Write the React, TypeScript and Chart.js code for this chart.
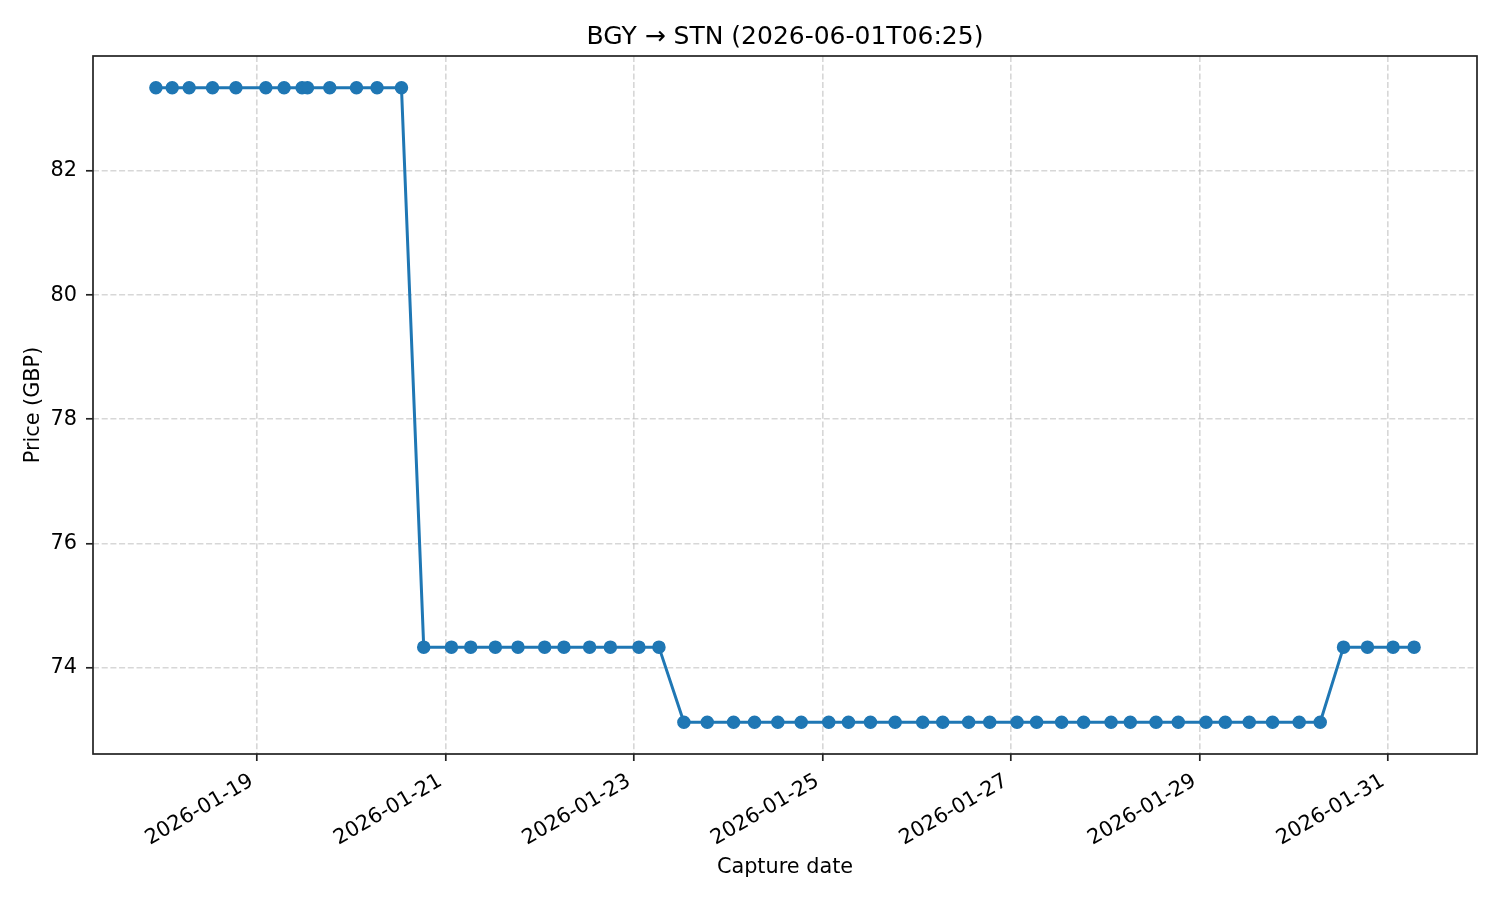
import { useEffect, useRef } from 'react';
import { Chart, registerables } from 'chart.js';

Chart.register(...registerables);

// capture timestamps (UTC) and the price seen at each capture
const captureTimes = [
  '2026-01-17T22:18', '2026-01-18T02:27', '2026-01-18T06:46', '2026-01-18T12:43', '2026-01-18T18:40',
  '2026-01-19T02:17', '2026-01-19T06:56', '2026-01-19T11:31', '2026-01-19T12:53', '2026-01-19T18:34',
  '2026-01-20T01:22', '2026-01-20T06:36', '2026-01-20T12:49', '2026-01-20T18:29', '2026-01-21T01:32',
  '2026-01-21T06:27', '2026-01-21T12:43', '2026-01-21T18:29', '2026-01-22T01:16', '2026-01-22T06:11',
  '2026-01-22T12:43', '2026-01-22T18:00', '2026-01-23T01:16', '2026-01-23T06:22', '2026-01-23T12:43',
  '2026-01-23T18:40', '2026-01-24T01:22', '2026-01-24T06:42', '2026-01-24T12:38', '2026-01-24T18:35',
  '2026-01-25T01:36', '2026-01-25T06:37', '2026-01-25T12:13', '2026-01-25T18:30', '2026-01-26T01:31',
  '2026-01-26T06:37', '2026-01-26T13:13', '2026-01-26T18:35', '2026-01-27T01:32', '2026-01-27T06:31',
  '2026-01-27T12:53', '2026-01-27T18:29', '2026-01-28T01:28', '2026-01-28T06:22', '2026-01-28T12:55',
  '2026-01-28T18:35', '2026-01-29T01:38', '2026-01-29T06:33', '2026-01-29T12:39', '2026-01-29T18:35',
  '2026-01-30T01:22', '2026-01-30T06:43', '2026-01-30T12:39', '2026-01-30T18:45', '2026-01-31T01:16',
  '2026-01-31T06:37',
];

const prices = [
  83.34, 83.34, 83.34, 83.34, 83.34, 83.34, 83.34, 83.34, 83.34, 83.34, 83.34, 83.34, 83.34,
  74.33, 74.33, 74.33, 74.33, 74.33, 74.33, 74.33, 74.33, 74.33, 74.33, 74.33,
  73.12, 73.12, 73.12, 73.12, 73.12, 73.12, 73.12, 73.12, 73.12, 73.12, 73.12, 73.12, 73.12, 73.12,
  73.12, 73.12, 73.12, 73.12, 73.12, 73.12, 73.12, 73.12, 73.12, 73.12, 73.12, 73.12, 73.12, 73.12,
  74.33, 74.33, 74.33, 74.33,
];

const xTickDates = ['2026-01-19', '2026-01-21', '2026-01-23', '2026-01-25', '2026-01-27', '2026-01-29', '2026-01-31'];
const yTickValues = [74, 76, 78, 80, 82];
const chartTitle = 'BGY → STN (2026-06-01T06:25)';

const toMs = (s: string) => Date.parse(s.length > 10 ? s + ':00Z' : s + 'T00:00:00Z');
const fmtDate = (v: number) => new Date(v).toISOString().slice(0, 10);

const FONT = 'DejaVu Sans';
const INK = '#000000';
const SPINE = '#222222';
const BLUE = '#1f77b4';
const GRID = 'rgba(176,176,176,0.5)';

// full box around the plot area + title centred over the axes (matplotlib style)
const framePlugin = {
  id: 'frame',
  afterDraw(chart: any) {
    const { ctx, chartArea: a } = chart;
    ctx.save();
    ctx.strokeStyle = SPINE;
    ctx.lineWidth = 1.7;
    ctx.strokeRect(a.left, a.top, a.right - a.left, a.bottom - a.top);
    ctx.fillStyle = INK;
    ctx.font = `25px "${FONT}"`;
    ctx.textAlign = 'center';
    ctx.textBaseline = 'middle';
    ctx.fillText(chartTitle, (a.left + a.right) / 2, 37);
    ctx.restore();
  },
};

const PriceChart = () => {
  const chartRef = useRef<HTMLCanvasElement>(null);
  const chartInstance = useRef<Chart | null>(null);

  useEffect(() => {
    document.body.style.margin = '0';
    if (!chartRef.current) return;

    if (chartInstance.current) {
      chartInstance.current.destroy();
    }

    const ctx = chartRef.current.getContext('2d');
    if (!ctx) return;

    const xs = captureTimes.map(toMs);
    const points = xs.map((x, i) => ({ x, y: prices[i] }));

    // 5% margins like matplotlib
    const xMinData = Math.min(...xs);
    const xMaxData = Math.max(...xs);
    const xPad = (xMaxData - xMinData) * 0.05;
    const yMinData = Math.min(...prices);
    const yMaxData = Math.max(...prices);
    const yPad = (yMaxData - yMinData) * 0.05;

    chartInstance.current = new Chart(ctx, {
      type: 'line',
      data: {
        datasets: [
          {
            data: points,
            borderColor: BLUE,
            backgroundColor: BLUE,
            borderWidth: 3,
            pointRadius: 6,
            pointBorderWidth: 1.5,
            pointBackgroundColor: BLUE,
            pointBorderColor: BLUE,
            tension: 0,
            fill: false,
          },
        ],
      },
      options: {
        responsive: true,
        maintainAspectRatio: false,
        animation: false,
        layout: { padding: { left: 0, right: 23, top: 56, bottom: 0 } },
        plugins: {
          legend: { display: false },
          tooltip: { enabled: false },
          title: { display: false },
        },
        scales: {
          x: {
            type: 'linear',
            min: xMinData - xPad,
            max: xMaxData + xPad,
            afterBuildTicks: (scale: any) => {
              scale.ticks = xTickDates.map((d) => ({ value: toMs(d) }));
            },
            afterFit: (scale: any) => {
              scale.height = 146;
            },
            ticks: {
              autoSkip: false,
              maxRotation: 30,
              minRotation: 30,
              padding: 8,
              labelOffset: -5,
              color: INK,
              font: { family: FONT, size: 20.8 },
              callback: (v: any) => fmtDate(Number(v)),
            },
            grid: {
              color: GRID,
              lineWidth: 1.6,
              tickColor: SPINE,
              tickLength: 7,
              tickWidth: 1.7,
            },
            border: { display: false, dash: [6, 2.7] },
            title: {
              display: true,
              text: 'Capture date',
              color: INK,
              font: { family: FONT, size: 20.8 },
              padding: { top: 0, bottom: 20 },
            },
          },
          y: {
            type: 'linear',
            min: yMinData - yPad,
            max: yMaxData + yPad,
            afterBuildTicks: (scale: any) => {
              scale.ticks = yTickValues.map((v) => ({ value: v }));
            },
            afterFit: (scale: any) => {
              scale.width = 93;
            },
            ticks: {
              padding: 9,
              color: INK,
              font: { family: FONT, size: 20.8 },
              callback: (v: any) => String(v),
            },
            grid: {
              color: GRID,
              lineWidth: 1.6,
              tickColor: SPINE,
              tickLength: 7,
              tickWidth: 1.7,
            },
            border: { display: false, dash: [6, 2.7] },
            title: {
              display: true,
              text: 'Price (GBP)',
              color: INK,
              font: { family: FONT, size: 20.8 },
              padding: { top: 21, bottom: 0 },
            },
          },
        },
      },
      plugins: [framePlugin],
    });

    return () => {
      if (chartInstance.current) {
        chartInstance.current.destroy();
        chartInstance.current = null;
      }
    };
  }, []);

  return (
    <div style={{ width: '1500px', height: '900px', background: '#ffffff' }}>
      <canvas ref={chartRef}></canvas>
    </div>
  );
};

export default function App() {
  return <PriceChart />;
}
